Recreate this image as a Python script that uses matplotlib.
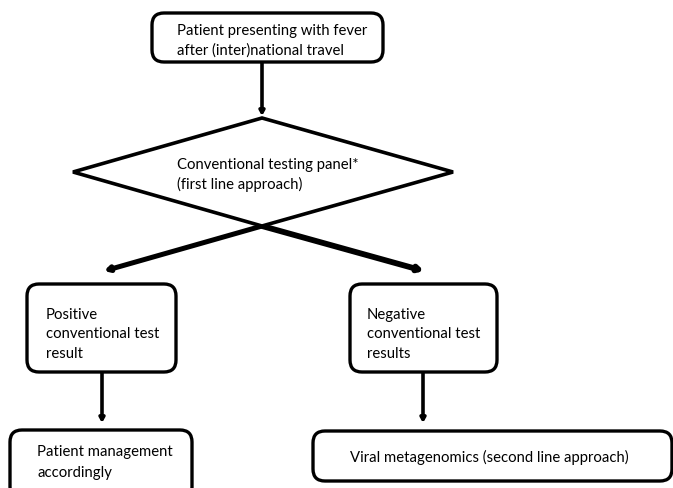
import matplotlib.pyplot as plt
from matplotlib.patches import FancyBboxPatch, Polygon

plt.rcParams['font.family'] = ['Lato', 'DejaVu Sans']

# node labels
start_text = ['Patient presenting with fever', 'after (inter)national travel']
decision_text = ['Conventional testing panel*', '(first line approach)']
pos_text = ['Positive', 'conventional test', 'result']
neg_text = ['Negative', 'conventional test', 'results']
pos_end_text = ['Patient management', 'accordingly']
neg_end_text = ['Viral metagenomics (second line approach)']

W, H = 673, 489
fig = plt.figure(figsize=(W / 100, H / 100), dpi=100)
ax = fig.add_axes([0, 0, 1, 1])
ax.set_xlim(0, W)
ax.set_ylim(H, 0)
ax.axis('off')

FS = 10.7
LW = 2.4


def rbox(x0, y0, x1, y1, r=12):
    p = FancyBboxPatch((x0 + r, y0 + r), (x1 - x0) - 2 * r, (y1 - y0) - 2 * r,
                       boxstyle='round,pad=%d' % r, fc='white', ec='black',
                       lw=LW, zorder=2)
    ax.add_patch(p)


def lines(x, y, txt, step=19.5, ha='left'):
    for k, t in enumerate(txt):
        ax.text(x, y + k * step, t, fontsize=FS, ha=ha, va='center', zorder=3)


def arrow(x0, y0, x1, y1, lw=2.6):
    ax.annotate('', xy=(x1, y1), xytext=(x0, y0),
                arrowprops=dict(arrowstyle='-|>,head_length=0.25,head_width=0.14',
                                lw=lw, color='black', shrinkA=0, shrinkB=0),
                zorder=1)


# top box
rbox(152, 14, 383, 63)
lines(177, 31, start_text)
arrow(262, 63, 262, 117)

# decision diamond
ax.add_patch(Polygon([(262, 119), (453, 173), (262, 227), (73, 173)],
                     closed=True, fc='white', ec='black', lw=2.6, zorder=2))
lines(177, 165, decision_text)

# branches
arrow(262, 227, 104, 272, lw=3.6)
arrow(262, 227, 424, 272, lw=4.2)

# second level boxes
rbox(27, 285, 176, 373)
lines(46, 315, pos_text)
rbox(350, 285, 497, 373)
lines(367, 315, neg_text)

arrow(102, 373, 102, 424)
arrow(423, 373, 423, 424)

# final boxes
rbox(10, 431, 192, 500)
lines(37, 452, pos_end_text, step=21)
rbox(313, 432, 672, 482)
lines(350, 457, neg_end_text)

fig.savefig('out.png', dpi=100)
